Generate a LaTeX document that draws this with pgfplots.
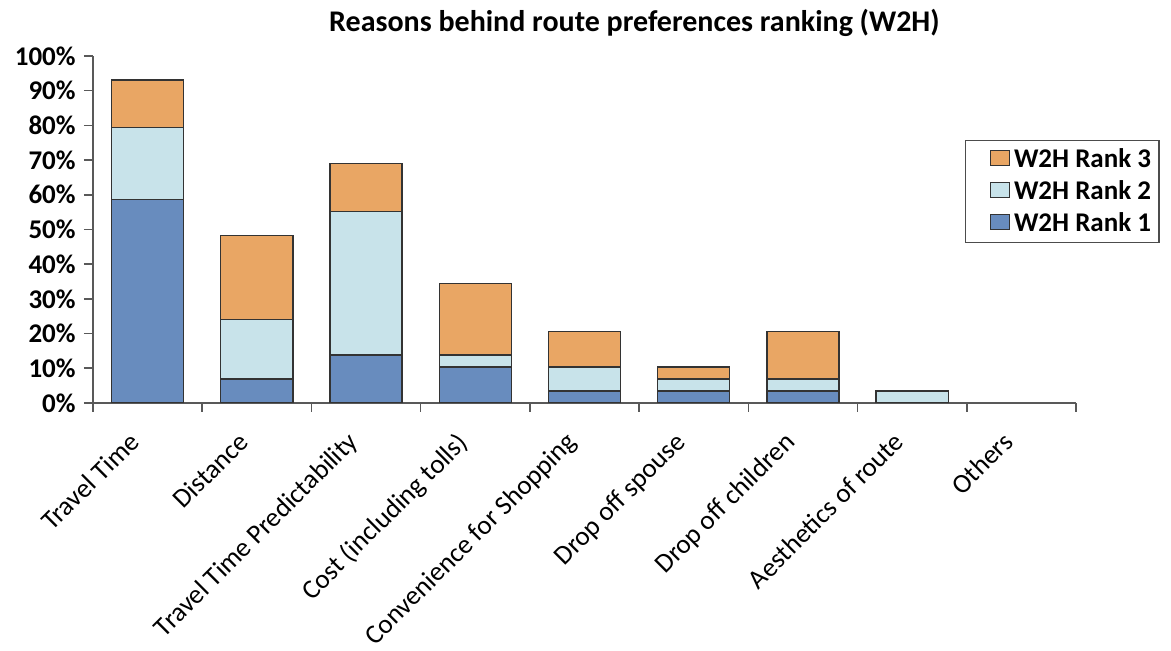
\documentclass[border=0pt]{standalone}
\usepackage{pgfplots}
\pgfplotsset{compat=1.18}
\usepackage{pgfplotstable}
\usepackage{fontspec}
\setmainfont{Carlito}

\definecolor{rankone}{RGB}{104,140,190}
\definecolor{ranktwo}{RGB}{200,227,234}
\definecolor{rankthree}{RGB}{233,166,100}

% share of respondents (29) per reason, stacked by rank
\pgfplotstableread{
x r1 r2 r3
0 58.62 20.69 13.79
1 6.90 17.24 24.14
2 13.79 41.38 13.79
3 10.34 3.45 20.69
4 3.45 6.90 10.34
5 3.45 3.45 3.45
6 3.45 3.45 13.79
7 0 3.45 0
8 0 0 0
}\datatable

\begin{document}
\begin{tikzpicture}
\useasboundingbox (-46.5pt,-124pt) rectangle (539pt,201.5pt);
\begin{axis}[
    scale only axis,
    width=491.5pt, height=173.5pt,
    ybar stacked,
    bar width=0.66,
    xmin=-0.5, xmax=8.5,
    ymin=0, ymax=100,
    axis lines*=left,
    axis line style={gray!70!black, line width=0.8pt},
    xtick={0,...,8},
    xticklabels={Travel Time, Distance, Travel Time Predictability, Cost (including tolls), Convenience for Shopping, Drop off spouse, Drop off children, Aesthetics of route, Others},
    major x tick style={draw=none},
    minor xtick={-0.5,0.5,...,8.5},
    minor tick length=4.5pt,
    minor x tick style={gray!70!black, line width=0.8pt},
    xticklabel style={xshift=-10pt, yshift=-7.5pt, rotate=45, anchor=north east, font=\fontsize{13.5}{16}\selectfont, inner sep=1pt},
    ytick={0,10,...,100},
    yticklabel={\pgfmathprintnumber{\tick}\%},
    yticklabel style={font=\bfseries\fontsize{13.5}{15}\selectfont, inner sep=1pt, xshift=-3pt},
    /pgf/number format/assume math mode=true,
    tick align=outside,
    major tick length=4.5pt,
    y tick style={gray!70!black, line width=0.8pt},
    title={\bfseries Reasons behind route preferences ranking (W2H)},
    title style={font=\fontsize{15}{18}\selectfont, yshift=0pt, xshift=25pt},
    reverse legend,
    legend style={at={(0.887,0.758)}, anchor=north west, draw=gray!60!black,
        line width=0.7pt,
        font=\bfseries\fontsize{13.5}{16}\selectfont, inner xsep=2pt, inner ysep=2pt,
        row sep=1pt},
    legend image code/.code={\path (0pt,0pt); \fill[#1] (10pt,-3pt) rectangle (19.5pt,4.5pt);},
]
\addplot[fill=rankone, draw=black!80, line width=0.7pt] table[x=x, y=r1] {\datatable};
\addplot[fill=ranktwo, draw=black!80, line width=0.7pt] table[x=x, y=r2] {\datatable};
\addplot[fill=rankthree, draw=black!80, line width=0.7pt] table[x=x, y=r3] {\datatable};
\legend{W2H Rank 1, W2H Rank 2, W2H Rank 3}
\end{axis}
\end{tikzpicture}
\end{document}
